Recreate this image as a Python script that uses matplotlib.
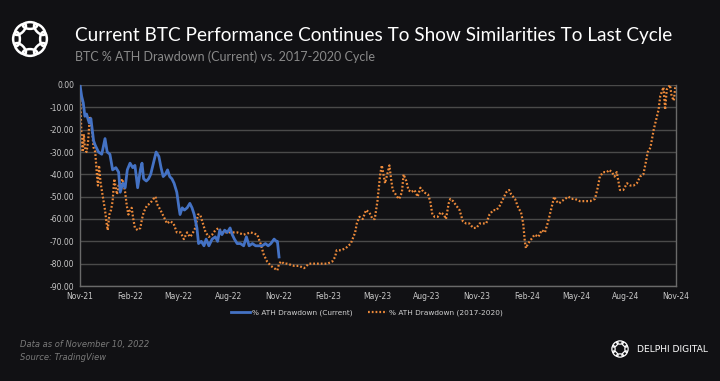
import numpy as np
import pandas as pd
import matplotlib
matplotlib.use("Agg")
import matplotlib.pyplot as plt
from matplotlib.patches import Ellipse

# days since ATH (current cycle ATH = 2021-11-10), drawdown in %
days_current = [0, 3, 6, 9, 12, 17, 20, 25, 28, 34, 40, 46, 50, 55, 60, 66, 71, 74,
                79, 83, 87, 92, 97, 101, 106, 111, 114, 117, 122, 126, 130, 135, 140,
                145, 149, 153, 157, 161, 165, 169, 173, 178, 182, 184, 188, 192, 197,
                202, 206, 210, 215, 218, 223, 228, 232, 237, 243, 249, 253, 257, 261,
                266, 271, 276, 280, 284, 289, 295, 301, 306, 311, 317, 323, 329, 335,
                341, 346, 351, 357, 361, 363, 366]
dd_current = [0, -5, -8, -14, -13, -17, -15, -25, -27, -30, -31, -24, -30, -31, -38,
              -37, -39, -48, -44, -46, -38, -35, -37, -36, -46, -38, -35, -42, -43,
              -42, -40, -35, -30, -32, -37, -41, -40, -38, -41, -42, -44, -48, -55,
              -58, -55, -56, -55, -53, -55, -58, -64, -71, -70, -72, -69, -72, -69,
              -68, -70, -65, -67, -65, -66, -64, -67, -69, -71, -71, -72, -68, -72,
              -71, -72, -72, -72, -71, -72, -71, -69, -70, -70, -77]

# 2017-2020 cycle, aligned on days since its ATH
days_prev = [0, 1, 3, 5, 7, 9, 12, 15, 18, 22, 25, 28, 31, 33, 35, 38, 42, 46, 49, 51,
             54, 57, 60, 63, 65, 68, 71, 74, 77, 80, 83, 86, 89, 92, 95, 98, 101, 106,
             111, 114, 117, 123, 129, 135, 139, 141, 148, 154, 160, 166, 172, 178, 185,
             191, 197, 202, 206, 212, 217, 221, 226, 231, 237, 243, 249, 255, 261, 271,
             280, 289, 301, 314, 326, 332, 338, 344, 351, 357, 363, 366, 370, 375, 381,
             394, 403, 412, 421, 431, 443, 455, 464, 469, 472, 480, 489, 498, 506, 509,
             514, 520, 526, 532, 538, 542, 547, 552, 555, 558, 561, 565, 569, 572, 575,
             578, 583, 587, 592, 595, 600, 604, 609, 615, 621, 626, 632, 640, 644, 648,
             652, 658, 663, 669, 673, 678, 681, 686, 692, 698, 704, 710, 716, 723, 729,
             735, 741, 747, 753, 760, 766, 772, 778, 784, 789, 793, 800, 806, 811, 815,
             818, 820, 824, 830, 836, 843, 849, 855, 861, 867, 872, 876, 881, 886, 892,
             898, 904, 910, 919, 929, 938, 947, 952, 956, 962, 969, 973, 978, 983, 987,
             990, 993, 999, 1006, 1012, 1018, 1024, 1030, 1036, 1041, 1044, 1049, 1055,
             1059, 1064, 1067, 1070, 1073, 1076, 1077, 1079, 1082, 1085, 1088, 1092, 1095]
dd_prev = [0, -10, -25, -30, -22, -28, -30, -25, -14, -20, -28, -30, -40, -45, -36, -44,
           -50, -56, -62, -65, -58, -56, -52, -42, -45, -49, -45, -47, -42, -44, -48, -54,
           -58, -56, -55, -60, -64, -65, -64, -60, -57, -54, -53, -51, -50, -53, -56, -59,
           -62, -61, -62, -66, -66, -69, -66, -68, -67, -64, -58, -58, -62, -66, -68, -67,
           -65, -64, -66, -66, -66, -66, -67, -66, -67, -71, -76, -79, -81, -82, -83, -80,
           -79, -80, -80, -81, -81, -82, -80, -80, -80, -80, -79, -77, -74, -74, -73, -71,
           -66, -62, -59, -60, -56, -57, -60, -60, -52, -40, -36, -40, -44, -40, -36, -42,
           -47, -48, -50, -51, -48, -40, -43, -47, -48, -47, -50, -46, -48, -49, -52, -58,
           -59, -59, -57, -58, -60, -53, -51, -52, -54, -56, -61, -62, -62, -64, -64, -62,
           -62, -62, -58, -56, -56, -54, -51, -48, -47, -49, -51, -55, -57, -62, -70, -73,
           -71, -69, -67, -68, -65, -66, -61, -55, -50, -52, -53, -52, -51, -50, -51, -51,
           -52, -52, -52, -51, -46, -41, -39, -39, -38, -39, -41, -39, -43, -47, -47, -44,
           -45, -45, -44, -41, -40, -34, -30, -28, -20, -16, -11, -5, -3, -1, -11, -8, -2,
           -1, 0, -5, -7, 0]

start = pd.Timestamp("2021-11-10")
x_current = start + pd.to_timedelta(days_current, unit="D")
x_prev = start + pd.to_timedelta(days_prev, unit="D")
tick_dates = [start + pd.DateOffset(months=3 * i) for i in range(13)]

bg = "#111114"
narrow = ["Liberation Sans Narrow", "DejaVu Sans"]

fig = plt.figure(figsize=(7.2, 3.81), dpi=100, facecolor=bg)
ax = fig.add_axes([80 / 720, 1 - 286 / 381, 596 / 720, 201 / 381], facecolor=bg)

ax.plot(x_current, dd_current, color="#4472C4", lw=2, label="% ATH Drawdown (Current)", zorder=3)
ax.plot(x_prev, dd_prev, color="#ED8A3A", lw=1.6, linestyle=(0, (0.8, 0.9)),
        label="% ATH Drawdown (2017-2020)", zorder=2)

ax.set_ylim(-90, 0)
ax.set_yticks(np.arange(-90, 1, 10))
ax.set_yticklabels([f"{v:.2f}" for v in np.arange(-90, 1, 10)])
ax.set_xlim(tick_dates[0], tick_dates[-1])
ax.set_xticks(tick_dates)
ax.set_xticklabels([d.strftime("%b-%y") for d in tick_dates])
ax.grid(axis="y", color="#4a4a4a", lw=1)
ax.set_axisbelow(True)
for s in ax.spines.values():
    s.set_color("#6a6a6a")
    s.set_linewidth(1)
ax.spines["top"].set_visible(False)
ax.tick_params(length=0, colors="#c8c8c8", labelsize=5.5, pad=4)
for lab in ax.get_xticklabels() + ax.get_yticklabels():
    lab.set_family(narrow)

leg = fig.legend(loc="center", bbox_to_anchor=(367 / 720, 1 - 313 / 381), ncol=2,
                 frameon=False, handlelength=2.6, columnspacing=2.0,
                 handletextpad=0.3, prop={"family": narrow, "size": 5.3})
for t in leg.get_texts():
    t.set_color("#d0d0d0")

fig.text(75 / 720, 1 - 36 / 381, "Current BTC Performance Continues To Show Similarities To Last Cycle",
         color="white", fontsize=13.7, family="Lato", va="center")
fig.text(75 / 720, 1 - 57 / 381, "BTC % ATH Drawdown (Current) vs. 2017-2020 Cycle",
         color="#8a8a8a", fontsize=9, family="Lato", va="center")

fig.text(20 / 720, 1 - 344 / 381, "Data as of November 10, 2022", color="#7a7a7a",
         fontsize=6, style="italic", family=narrow, va="center")
fig.text(20 / 720, 1 - 357 / 381, "Source: TradingView", color="#7a7a7a",
         fontsize=6, style="italic", family=narrow, va="center")
fig.text(637 / 720, 1 - 349 / 381, "DELPHI DIGITAL", color="white", fontsize=6.6,
         family="DejaVu Sans", va="center")

# logo knots: ring of interlocking loops
logo = fig.add_axes([0, 0, 1, 1], facecolor="none")
logo.set_xlim(0, 720)
logo.set_ylim(381, 0)
logo.axis("off")
for cx, cy, r, lw in [(30, 39, 13.5, 1.8), (620, 349, 6.5, 0.9)]:
    for k in range(8):
        a = np.pi / 4 * k
        logo.add_patch(Ellipse((cx + r * np.cos(a), cy + r * np.sin(a)),
                               width=r * 0.5, height=r * 1.05, angle=np.degrees(a),
                               fill=False, ec="white", lw=lw))

fig.savefig("out.png", dpi=100, facecolor=bg)
